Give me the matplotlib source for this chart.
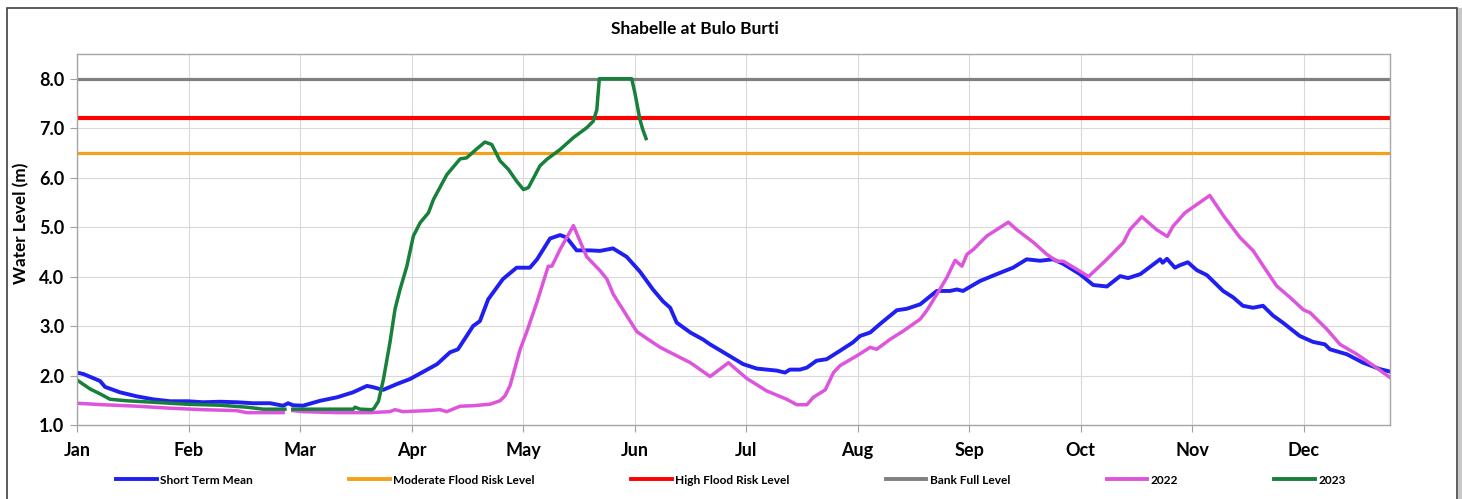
import numpy as np
import matplotlib
matplotlib.use("Agg")
import matplotlib.pyplot as plt
from matplotlib.lines import Line2D

plt.rcParams['font.family'] = ['Lato', 'DejaVu Sans']

# 月ラベル（31日間隔）
months = ['Jan', 'Feb', 'Mar', 'Apr', 'May', 'Jun', 'Jul', 'Aug', 'Sep', 'Oct', 'Nov', 'Dec']
month_days = [0, 31, 62, 93, 124, 155, 186, 217, 248, 279, 310, 341]

# 基準水位
moderate_level = 6.5
high_level = 7.2
bank_full_level = 8.0

# Short Term Mean
stm_day = [0, 1.8, 6.4, 7.8, 12, 16.6, 21.1, 25.9, 30.9, 35, 39.8, 44.4, 48.9, 53.7, 57.3, 58.7, 60,
           62.8, 67.6, 72.3, 76.7, 80.6, 82, 85.1, 89, 92.6, 100.1, 103.7, 105.9, 110.1, 112, 114.3,
           118.4, 122.2, 125.9, 127.9, 131.5, 134.3, 136.1, 138.9, 142.6, 145.4, 149, 152.8, 156.5,
           160.1, 162.9, 164.9, 166.7, 170.5, 174, 176, 180.6, 185.2, 189, 194.5, 196.8, 198.2, 201,
           202.9, 205.6, 208.4, 212.1, 215.7, 217.7, 220.5, 223.2, 227.9, 230.7, 234.4, 239, 242.7,
           244.6, 246.3, 251, 255.7, 260.2, 264, 267.7, 271.3, 274.1, 278.8, 282.5, 286.3, 290, 292.2,
           295.6, 301.1, 301.8, 303, 305.2, 306.6, 308.8, 311.3, 314.1, 318.6, 321.4, 324.1, 326.9,
           329.7, 332.5, 335.2, 339.9, 343.6, 346.9, 348.3, 353, 357.5, 362.2, 365]
stm_val = [2.06, 2.03, 1.89, 1.77, 1.66, 1.58, 1.52, 1.48, 1.48, 1.46, 1.47, 1.46, 1.44, 1.44, 1.39, 1.44, 1.40,
           1.39, 1.49, 1.56, 1.66, 1.79, 1.77, 1.71, 1.83, 1.93, 2.23, 2.47, 2.53, 3.00, 3.10, 3.54,
           3.95, 4.18, 4.18, 4.35, 4.77, 4.84, 4.79, 4.53, 4.53, 4.52, 4.57, 4.40, 4.10,
           3.74, 3.50, 3.37, 3.07, 2.87, 2.73, 2.63, 2.43, 2.23, 2.14, 2.10, 2.06, 2.12, 2.12,
           2.16, 2.30, 2.33, 2.50, 2.67, 2.80, 2.87, 3.04, 3.32, 3.35, 3.44, 3.71, 3.71,
           3.74, 3.71, 3.91, 4.05, 4.18, 4.35, 4.32, 4.35, 4.26, 4.05, 3.83, 3.80, 4.01, 3.97,
           4.05, 4.35, 4.28, 4.36, 4.18, 4.23, 4.29, 4.13, 4.03, 3.71, 3.58, 3.41, 3.37,
           3.41, 3.21, 3.07, 2.80, 2.68, 2.63, 2.53, 2.43, 2.26, 2.13, 2.08]

# 2022
y2022_day = [0, 7.2, 16.6, 25.9, 35, 44.4, 47.2, 57.3, 59, 60, 62.8, 72.3, 81.5, 87, 88.4, 90.6, 97.2,
             100.9, 102.8, 106.5, 110.1, 114.8, 117.6, 119, 120.4, 123.2, 125, 127.8, 131, 132, 134.3,
             138, 141.7, 145.4, 147.3, 149.1, 155.6, 158.4, 162.1, 166.7, 170.5, 176, 181.1, 186.2,
             191.7, 197.3, 200.1, 202.9, 204.7, 208, 210.3, 212.1, 216.8, 220.5, 222.3, 226, 229.7,
             234.4, 236.2, 239, 241.8, 244.1, 246, 247.4, 249.2, 252.9, 258.9, 261.2, 265.9, 269.6,
             272.4, 274.2, 278.8, 281.2, 286.3, 290.9, 292.7, 296, 300.1, 303.1, 304.7, 308, 314.9,
             318.7, 323.3, 327, 329.8, 333.5, 337.2, 340.9, 342.8, 347.4, 351.1, 355.8, 360.4, 365]
y2022_val = [1.44, 1.41, 1.38, 1.34, 1.31, 1.29, 1.25, 1.25, np.nan, 1.29, 1.27, 1.25, 1.25, 1.27, 1.31, 1.27, 1.29,
             1.31, 1.27, 1.38, 1.39, 1.42, 1.49, 1.59, 1.80, 2.53, 2.88, 3.47, 4.21, 4.21, 4.55,
             5.03, 4.40, 4.12, 3.95, 3.64, 2.89, 2.75, 2.57, 2.40, 2.26, 1.98, 2.26, 1.94,
             1.69, 1.52, 1.41, 1.41, 1.56, 1.71, 2.06, 2.20, 2.40, 2.57, 2.53, 2.73, 2.90,
             3.14, 3.31, 3.64, 3.98, 4.33, 4.21, 4.45, 4.55, 4.82, 5.10, 4.95, 4.69, 4.45,
             4.31, 4.31, 4.11, 4.00, 4.35, 4.69, 4.95, 5.21, 4.95, 4.81, 5.02, 5.29, 5.64,
             5.23, 4.79, 4.52, 4.21, 3.81, 3.58, 3.33, 3.27, 2.94, 2.63, 2.43, 2.20, 1.96]

# 2023
y2023_day = [0, 3.6, 6.4, 9.2, 13.8, 21.2, 30.5, 39.8, 47.2, 51.8, 57.8, 59, 60, 76.8, 77.3, 78.7, 81.9,
             82.5, 83.8, 85.2, 87, 88.4, 89.8, 91.7, 93.5, 95.4, 97.7, 99.1, 102.8, 106.5, 108.3, 111.1,
             113.4, 115.3, 117.6, 119.9, 122.2, 124.1, 125.5, 128.7, 130.6, 134.3, 138, 141.7, 143.5,
             144.5, 145.2, 154.2, 155.1, 156.5, 157.3, 158.2]
y2023_val = [1.91, 1.73, 1.63, 1.52, 1.49, 1.46, 1.42, 1.40, 1.36, 1.32, 1.32, np.nan, 1.32, 1.32, 1.36, 1.32, 1.31,
             1.33, 1.48, 1.93, 2.67, 3.34, 3.74, 4.21, 4.82, 5.09, 5.29, 5.56, 6.06, 6.38, 6.40, 6.58,
             6.72, 6.67, 6.34, 6.17, 5.93, 5.76, 5.80, 6.24, 6.37, 6.57, 6.81, 7.01, 7.14,
             7.37, 8.0, 8.0, 7.71, 7.17, 6.97, 6.79]

W, H = 1462, 499
fig = plt.figure(figsize=(W / 100, H / 100), dpi=100)
ax = fig.add_axes([77 / W, 1 - 425 / H, (1390 - 77) / W, (425 - 54) / H])

c_blue = '#1F1FF0'
c_orange = '#F5A01A'
c_red = '#FF0000'
c_gray = '#808080'
c_pink = '#DD55DD'
c_green = '#17803A'

ax.plot(stm_day, stm_val, color=c_blue, lw=2.8, solid_joinstyle='round')
ax.axhline(moderate_level, color=c_orange, lw=2.3)
ax.axhline(high_level, color=c_red, lw=3.0)
ax.axhline(bank_full_level, color=c_gray, lw=2.3)
ax.plot(y2022_day, y2022_val, color=c_pink, lw=2.5, solid_joinstyle='round')
ax.plot(y2023_day, y2023_val, color=c_green, lw=2.5, solid_joinstyle='round')

ax.set_xlim(0, 365)
ax.set_ylim(1.0, 8.5)
ax.set_xticks(month_days)
ax.set_xticklabels(months)
ax.set_yticks(np.arange(1, 9, 1.0))
ax.set_yticklabels(['%.1f' % v for v in np.arange(1, 9, 1.0)])
ax.tick_params(axis='both', labelsize=13, colors='#A0A0A0', labelcolor='black', length=5, width=0.8)
ax.tick_params(axis='x', pad=7)
ax.tick_params(axis='y', pad=4)
for lab in ax.get_xticklabels() + ax.get_yticklabels():
    lab.set_fontweight('bold')
ax.grid(True, color='#D9D9D9', lw=0.8)
ax.set_axisbelow(True)
for s in ax.spines.values():
    s.set_color('#A6A6A6')
    s.set_linewidth(1.0)

fig.text(695 / W, 1 - 29 / H, 'Shabelle at Bulo Burti', ha='center', va='center',
         fontsize=12.5, fontweight='bold')
fig.text(21 / W, 1 - 223 / H, 'Water Level (m)', ha='center', va='center', rotation=90,
         fontsize=12.3, fontweight='bold')

handles = [Line2D([], [], color=c, lw=2.8) for c in [c_blue, c_orange, c_red, c_gray, c_pink, c_green]]
labels = ['Short Term Mean', 'Moderate Flood Risk Level', 'High Flood Risk Level',
          'Bank Full Level', '2022', '2023']
leg = fig.legend(handles, labels, loc='center', bbox_to_anchor=(731 / W, 1 - 480 / H), ncol=6,
                 frameon=False, prop={'weight': 'bold', 'size': 8.6}, handlelength=3.4,
                 handletextpad=0.3, columnspacing=8.05)

# 外枠
fig.add_artist(plt.Rectangle((7 / W, -0.05), (1457 - 7) / W, 1.05 - 8 / H, transform=fig.transFigure,
                             fill=False, edgecolor='#404040', lw=1.2))
fig.add_artist(Line2D([1460 / W, 1460 / W], [0, 1 - 10 / H], transform=fig.transFigure,
                      color='#C8C8C8', lw=3))

fig.savefig('out.png', dpi=100)
